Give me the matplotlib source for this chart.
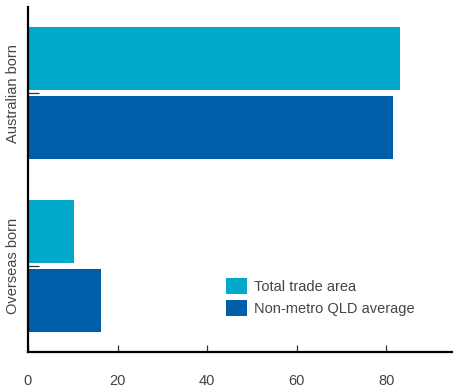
import matplotlib.pyplot as plt
import matplotlib.transforms as mtransforms
import numpy as np

plt.rcParams['font.family'] = ['Liberation Sans', 'DejaVu Sans']

categories = ["Overseas born", "Australian born"]
series_names = ["Total trade area", "Non-metro QLD average"]
total_trade = [10.3, 83.0]
non_metro = [16.3, 81.6]
x_ticks = [0, 20, 40, 60, 80]

col_total = "#00a8ca"
col_qld = "#005ea8"
txt = "#444444"

fig = plt.figure(figsize=(4.57, 3.92), dpi=100)
ax = fig.add_axes([28 / 457, 40 / 392, 424 / 457, 345 / 392])

y = np.arange(len(categories))
h = 0.365
ax.barh(y + 0.2, total_trade, height=h, color=col_total, label=series_names[0])
ax.barh(y - 0.2, non_metro, height=h, color=col_qld, label=series_names[1])

ax.set_xlim(0, 94.7)
ax.set_ylim(-0.5, 1.5)
ax.set_xticks(x_ticks)
ax.set_xticklabels([str(t) for t in x_ticks])
ax.set_yticks(y)
ax.set_yticklabels(categories, rotation=90, va="center")

# the overseas label sits a little above its tick in the original
lab = ax.get_yticklabels()[0]
lab.set_transform(lab.get_transform() +
                  mtransforms.ScaledTranslation(0, 8 / 100, fig.dpi_scale_trans))

for s in ["top", "right"]:
    ax.spines[s].set_visible(False)
for s in ["left", "bottom"]:
    ax.spines[s].set_linewidth(1.6)
    ax.spines[s].set_color("black")

ax.tick_params(axis="x", direction="in", length=5, width=0.9, color="#333333",
               pad=15.5, labelsize=10.5, labelcolor=txt)
ax.tick_params(axis="y", direction="in", length=8, width=0.9, color="#333333",
               pad=6, labelsize=10.5, labelcolor=txt)

leg = fig.legend(loc="upper left", bbox_to_anchor=(226 / 457, 1 - 278 / 392),
                 frameon=False, fontsize=10.5, handlelength=1.45, handleheight=1.3,
                 handletextpad=0.45, labelspacing=0.45, borderpad=0, borderaxespad=0)
for t in leg.get_texts():
    t.set_color(txt)

fig.savefig("out.png", dpi=100)
